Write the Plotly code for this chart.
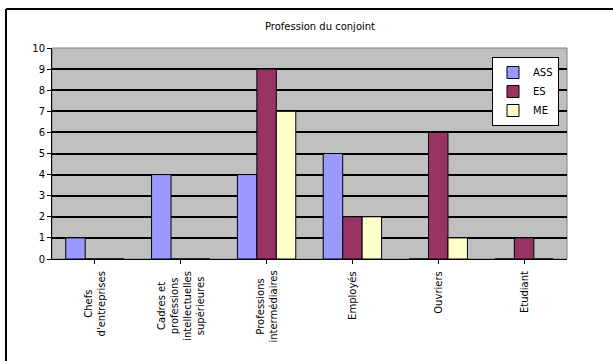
import plotly.graph_objects as go

# Spouse's profession, counts per group
categories = [
    "Chefs<br>d'entreprises",
    "Cadres et<br>professions<br>intellectuelles<br>supérieures",
    "Professions<br>intermédiaires",
    "Employés",
    "Ouvriers",
    "Etudiant",
]
ass_values = [1, 4, 4, 5, 0, 0]
es_values = [0, 0, 9, 2, 6, 1]
me_values = [0, 0, 7, 2, 1, 0]
y_ticks = list(range(0, 11))

series = [
    ("ASS", ass_values, "#9999FF"),
    ("ES", es_values, "#993366"),
    ("ME", me_values, "#FFFFCC"),
]

FONT = "DejaVu Sans"
W, H = 613, 361
L, R, T, B = 52, 46, 48, 102
pw, ph = W - L - R, H - T - B


def px_x(px):
    return (px - L) / pw


def px_y(py):
    return (H - B - py) / ph


fig = go.Figure()
for name, vals, color in series:
    fig.add_trace(go.Bar(
        name=name, x=list(range(len(categories))), y=vals,
        marker=dict(color=color, line=dict(color="black", width=1)),
    ))

# category labels, rotated and centred under each group
for i, lab in enumerate(categories):
    fig.add_annotation(
        x=i, y=0, xref="x", yref="paper", yshift=-10,
        text=lab, textangle=-90, showarrow=False, align="center",
        xanchor="center", yanchor="top",
        font=dict(family=FONT, size=10, color="black"),
    )

fig.update_layout(
    width=W, height=H,
    margin=dict(l=L, r=R, t=T, b=B, pad=0),
    paper_bgcolor="white", plot_bgcolor="#C0C0C0",
    barmode="group", bargap=0.32, bargroupgap=0,
    font=dict(family=FONT, size=10, color="black"),
    title=dict(text="Profession du conjoint", x=0.522, xref="container",
               y=1 - 26 / H, yref="container", xanchor="center", yanchor="middle",
               font=dict(family=FONT, size=10, color="black")),
    legend=dict(x=px_x(559), y=px_y(57), xanchor="right", yanchor="top",
                bgcolor="white", bordercolor="black", borderwidth=1,
                font=dict(family=FONT, size=10, color="black"),
                itemwidth=30, tracegroupgap=0),
    showlegend=True,
)

fig.update_xaxes(
    range=[-0.5, len(categories) - 0.5],
    tickmode="array", tickvals=list(range(len(categories))),
    showticklabels=False, tickson="boundaries",
    ticks="outside", ticklen=4, tickcolor="black", tickwidth=1,
    showgrid=False, showline=True, linecolor="black", linewidth=1,
    zeroline=False,
)
fig.update_yaxes(
    range=[0, 10], tickvals=y_ticks,
    ticks="outside", ticklen=4, tickcolor="black", tickwidth=1,
    showgrid=True, gridcolor="black", gridwidth=2,
    showline=True, linecolor="black", linewidth=1,
    zeroline=False, tickfont=dict(family=FONT, size=10, color="black"),
)

# plot-area frame (top and right edges)
fig.add_shape(type="rect", xref="paper", yref="paper", x0=0, y0=0, x1=1, y1=1,
              line=dict(color="#808080", width=1), layer="below")
# outer chart border
fig.add_shape(type="line", xref="paper", yref="paper",
              x0=px_x(6), y0=px_y(9), x1=px_x(640), y1=px_y(9),
              line=dict(color="black", width=2))
fig.add_shape(type="line", xref="paper", yref="paper",
              x0=px_x(6), y0=px_y(9), x1=px_x(6), y1=px_y(400),
              line=dict(color="black", width=2))

fig.write_html("out.html")
